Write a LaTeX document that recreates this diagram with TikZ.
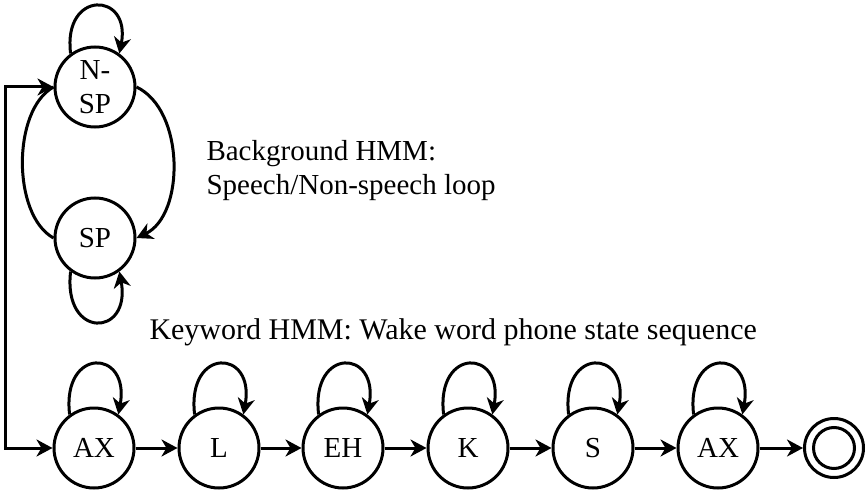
\documentclass[tikz,border=0pt]{standalone}
\usepackage{fontspec}
\setmainfont{Liberation Serif}
\usetikzlibrary{arrows.meta}
\begin{document}
\begin{tikzpicture}[x=1pt,y=-1pt,line width=3pt,
  state/.style={circle,draw,minimum size=80pt,inner sep=0pt,font=\fontsize{29}{34}\selectfont,align=center},
  arr/.style={-{Stealth[length=16pt,width=17pt,inset=5pt]}},
  lbl/.style={anchor=base west,inner sep=0pt,font=\fontsize{30}{36}\selectfont}]
\useasboundingbox (0,0) rectangle (868,495);
% background HMM
\node[state] (nsp) at (95,87) {N-\\SP};
\node[state] (sp) at (95,238) {SP};
\draw[arr] (nsp.126) .. controls +(-8,-64) and +(12,-62) .. (nsp.54);
\draw[arr] (sp.234) .. controls +(-8,68) and +(12,66) .. (sp.306);
\draw[arr] (nsp.east) .. controls (185,110) and (185,215) .. (sp.east);
\draw (sp.west) .. controls (12,215) and (12,110) .. (nsp.west);
% keyword HMM
\node[state] (ax1) at (94,448) {AX};
\node[state] (l) at (219,448) {L};
\node[state] (eh) at (343,448) {EH};
\node[state] (k) at (468,448) {K};
\node[state] (s) at (593,448) {S};
\node[state] (ax2) at (718,448) {AX};
\node[circle,draw,minimum size=59pt,inner sep=0pt] (fin) at (834,448) {};
\draw (fin.center) circle[radius=20.5];
\foreach \n in {ax1,l,eh,k,s,ax2}{
  \draw[arr] (\n.126) .. controls +(-8,-68) and +(12,-66) .. (\n.54);
}
\draw[arr] (ax1) -- (l);
\draw[arr] (l) -- (eh);
\draw[arr] (eh) -- (k);
\draw[arr] (k) -- (s);
\draw[arr] (s) -- (ax2);
\draw[arr] (ax2) -- (fin);
% feedback line
\coordinate (fb) at (5,270);
\draw[arr] (fb) |- (nsp.west);
\draw[arr] (fb) |- (ax1.west);
% labels
\node[lbl,font=\fontsize{29}{35}\selectfont] (bg1) at (205,160) {Background HMM:};
\node[lbl,font=\fontsize{29}{35}\selectfont] (bg2) at (205,194) {Speech/Non-speech loop};
\node[lbl] (kw) at (148,339) {Keyword HMM: Wake word phone state sequence};
\end{tikzpicture}
\end{document}
